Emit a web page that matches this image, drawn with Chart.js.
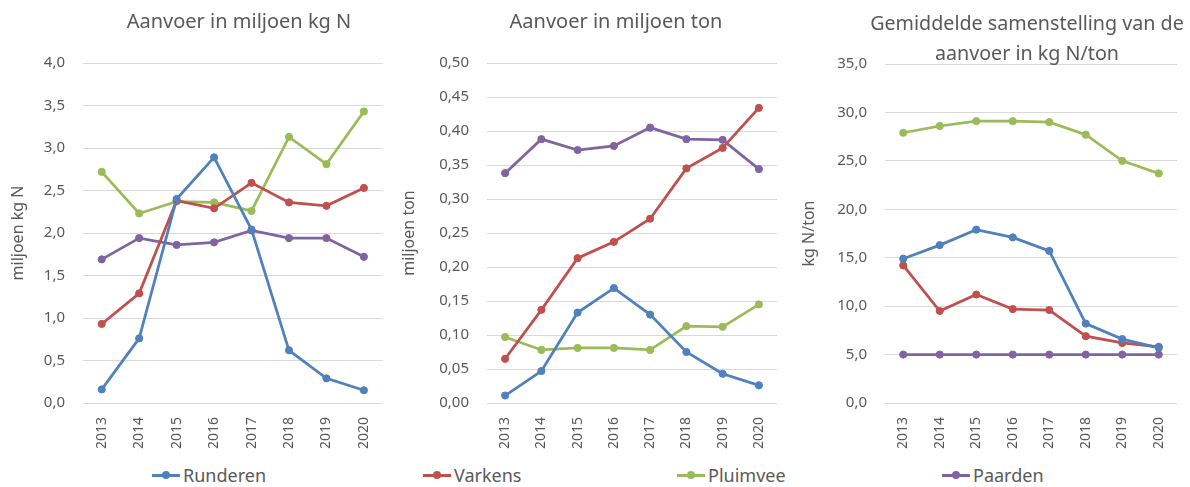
<!DOCTYPE html>
<html lang="nl">
<head>
<meta charset="utf-8">
<title>Aanvoer mest</title>
<script src="https://cdn.jsdelivr.net/npm/chart.js@4/dist/chart.umd.min.js"></script>
<style>
  html, body { margin: 0; padding: 0; background: #fff; }
  body { width: 1190px; height: 487px; position: relative; overflow: hidden; font-family: 'Noto Sans', sans-serif; color: #595959; }
  .box { position: absolute; top: 0; height: 455px; }
  #box-n   { left: 0;     width: 395px; }
  #box-ton { left: 395px; width: 395px; }
  #box-kg  { left: 790px; width: 400px; }
  .titel { position: absolute; width: 360px; text-align: center; white-space: nowrap; font-size: 20px; line-height: 24px; top: 9px; }
  #titel-n   { left: 59px; }
  #titel-ton { left: 436px; }
  #titel-kg  { left: 847px; font-size: 19.7px; line-height: 30px; top: 8px; }
  .legend { position: absolute; top: 462px; left: 0; width: 1190px; height: 26px; }
  .lg-item { position: absolute; top: 0; height: 26px; display: flex; align-items: center; font-size: 18px; }
  .lg-sym { position: relative; width: 28px; height: 3px; margin-right: 3px; }
  .lg-sym i { position: absolute; left: 10px; top: -2.5px; width: 8px; height: 8px; border-radius: 50%; background: inherit; }
</style>
</head>
<body>
<div class="box" id="box-n"><canvas id="chart-n"></canvas></div>
<div class="box" id="box-ton"><canvas id="chart-ton"></canvas></div>
<div class="box" id="box-kg"><canvas id="chart-kg"></canvas></div>
<div class="titel" id="titel-n">Aanvoer in miljoen kg N</div>
<div class="titel" id="titel-ton">Aanvoer in miljoen ton</div>
<div class="titel" id="titel-kg">Gemiddelde samenstelling van de<br>aanvoer in kg N/ton</div>
<div class="legend" id="legend"></div>

<script>
(function () {
  'use strict';

  /* ---------------------------------------------------------- Data */
  const jaren = ['2013', '2014', '2015', '2016', '2017', '2018', '2019', '2020'];
  const soorten = ['Runderen', 'Varkens', 'Pluimvee', 'Paarden'];

  // aanvoer in miljoen kg N
  const runderenN = [0.16, 0.76, 2.40, 2.89, 2.04, 0.62, 0.29, 0.15];
  const varkensN  = [0.93, 1.29, 2.38, 2.29, 2.59, 2.36, 2.32, 2.53];
  const pluimveeN = [2.72, 2.23, 2.37, 2.36, 2.26, 3.13, 2.81, 3.43];
  const paardenN  = [1.69, 1.94, 1.86, 1.89, 2.03, 1.94, 1.94, 1.72];

  // aanvoer in miljoen ton
  const runderenTon = [0.011, 0.047, 0.133, 0.169, 0.130, 0.075, 0.043, 0.026];
  const varkensTon  = [0.065, 0.137, 0.213, 0.237, 0.271, 0.345, 0.375, 0.434];
  const pluimveeTon = [0.097, 0.078, 0.081, 0.081, 0.078, 0.113, 0.112, 0.145];
  const paardenTon  = [0.338, 0.388, 0.372, 0.378, 0.405, 0.388, 0.387, 0.344];

  // gemiddelde samenstelling in kg N/ton
  const runderenKg = [14.9, 16.3, 17.9, 17.1, 15.7, 8.2, 6.6, 5.7];
  const varkensKg  = [14.2, 9.5, 11.2, 9.7, 9.6, 6.9, 6.2, 5.8];
  const pluimveeKg = [27.9, 28.6, 29.1, 29.1, 29.0, 27.7, 25.0, 23.7];
  const paardenKg  = [5.0, 5.0, 5.0, 5.0, 5.0, 5.0, 5.0, 5.0];

  const KLEUR = ['#4f81bd', '#c0504d', '#9bbb59', '#8064a2'];
  const GRIJS = '#595959';
  const RASTER = '#d9d9d9';

  Chart.defaults.font.family = "'Noto Sans', sans-serif";
  Chart.defaults.color = GRIJS;

  /* ------------------------------------------------------- Helpers */
  function datasets(reeksen) {
    return reeksen.map(function (data, i) {
      return {
        label: soorten[i], data: data,
        borderColor: KLEUR[i], backgroundColor: KLEUR[i],
        borderWidth: 2.75, pointRadius: 3.6, pointBorderWidth: 1,
        pointHoverRadius: 3.6, tension: 0,
      };
    });
  }

  function komma(dec) {
    return function (v) { return Number(v).toFixed(dec).replace('.', ','); };
  }

  function lijn(id, opts) {
    return new Chart(document.getElementById(id), {
      type: 'line',
      data: { labels: jaren, datasets: datasets(opts.reeksen) },
      options: {
        responsive: true, maintainAspectRatio: false, animation: false,
        layout: { padding: { left: 0, right: opts.right, top: opts.top, bottom: 0 } },
        plugins: {
          legend: { display: false },
          tooltip: { enabled: false },
        },
        scales: {
          x: {
            offset: true,
            grid: { display: false, drawTicks: false },
            border: { display: false },
            ticks: { minRotation: 90, maxRotation: 90, padding: 14, font: { size: 14 }, color: GRIJS },
            afterFit: function (s) { s.height = 52; },
          },
          y: {
            min: opts.min, max: opts.max,
            grid: { color: RASTER, lineWidth: 1, drawTicks: false },
            border: { display: false },
            ticks: { stepSize: opts.stap, padding: 18, font: { size: 15 }, color: GRIJS, callback: komma(opts.dec) },
            title: { display: true, text: opts.as, color: GRIJS, font: { size: 16 }, padding: { top: opts.asPad, bottom: 0 } },
            afterFit: function (s) { s.width = opts.breedte; },
          },
        },
      },
    });
  }

  /* -------------------------------------------------------- Charts */
  lijn('chart-n', {
    as: 'miljoen kg N',
    reeksen: [runderenN, varkensN, pluimveeN, paardenN],
    min: 0, max: 4, stap: 0.5, dec: 1,
    breedte: 83, right: 5, top: 63, asPad: 9,
  });

  lijn('chart-ton', {
    as: 'miljoen ton',
    reeksen: [runderenTon, varkensTon, pluimveeTon, paardenTon],
    min: 0, max: 0.5, stap: 0.05, dec: 2,
    breedte: 92, right: 5, top: 63, asPad: 5,
  });

  lijn('chart-kg', {
    as: 'kg N/ton',
    reeksen: [runderenKg, varkensKg, pluimveeKg, paardenKg],
    min: 0, max: 35, stap: 5, dec: 1,
    breedte: 95, right: 7, top: 64, asPad: 10,
  });

  /* -------------------------------------------------------- Legenda */
  const posities = [152, 423, 677, 942];
  document.getElementById('legend').innerHTML = soorten.map(function (naam, i) {
    return '<div class="lg-item" style="left:' + posities[i] + 'px">'
      + '<span class="lg-sym" style="background:' + KLEUR[i] + '"><i></i></span>'
      + '<span>' + naam + '</span></div>';
  }).join('');
})();
</script>
</body>
</html>
